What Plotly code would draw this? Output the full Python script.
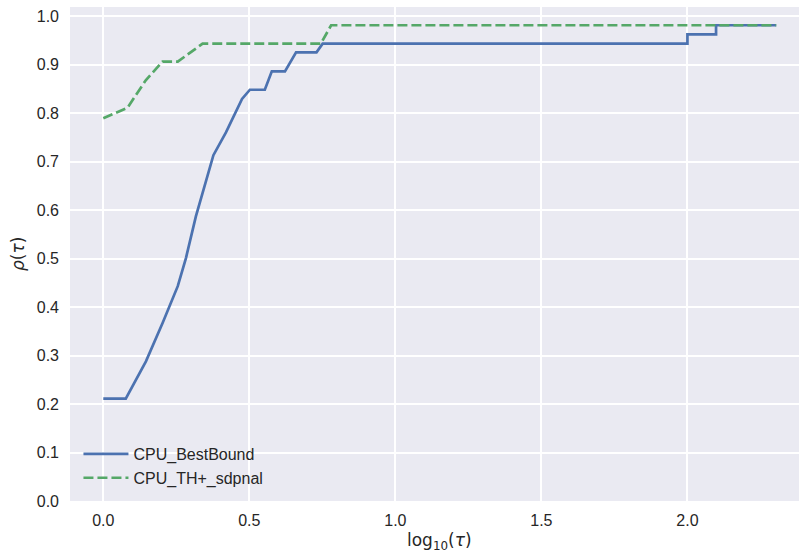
import plotly.graph_objects as go

# Performance profile data (log10(tau), rho(tau))
best_x = [0.0, 0.077, 0.146, 0.203, 0.255, 0.283, 0.317, 0.352, 0.377, 0.420, 0.475, 0.502,
          0.553, 0.577, 0.622, 0.660, 0.730, 0.751, 2.0, 2.0, 2.098, 2.098, 2.304]
best_y = [0.211, 0.211, 0.288, 0.367, 0.443, 0.501, 0.587, 0.663, 0.713, 0.760, 0.829, 0.848,
          0.848, 0.886, 0.886, 0.925, 0.925, 0.943, 0.943, 0.962, 0.962, 0.981, 0.981]

th_x = [0.0, 0.083, 0.146, 0.203, 0.255, 0.340, 0.745, 0.780, 2.304]
th_y = [0.789, 0.811, 0.868, 0.906, 0.906, 0.943, 0.943, 0.981, 0.981]

x_ticks = [0.0, 0.5, 1.0, 1.5, 2.0]
y_ticks = [0.0, 0.1, 0.2, 0.3, 0.4, 0.5, 0.6, 0.7, 0.8, 0.9, 1.0]

font_family = "Liberation Sans, Arial, sans-serif"
math_family = "DejaVu Sans, sans-serif"
text_color = "#262626"

fig = go.Figure()
fig.add_trace(go.Scatter(x=best_x, y=best_y, mode="lines", name="CPU_BestBound",
                         line=dict(color="#4C72B0", width=2.7)))
fig.add_trace(go.Scatter(x=th_x, y=th_y, mode="lines", name="CPU_TH+_sdpnal",
                         line=dict(color="#55A868", width=2.7, dash="10px,4px")))

fig.update_layout(
    width=799, height=552,
    margin=dict(l=70, r=0, t=7, b=51, autoexpand=False),
    paper_bgcolor="white",
    plot_bgcolor="#EAEAF2",
    font=dict(family=font_family, size=16, color=text_color),
    showlegend=True,
    legend=dict(x=0.0116, y=0.012, xanchor="left", yanchor="bottom",
                bgcolor="rgba(0,0,0,0)", font=dict(size=16, color=text_color),
                itemwidth=45, tracegroupgap=0),
    annotations=[
        dict(text="log<sub>10</sub>(<i>τ</i>)", xref="paper", yref="paper",
             x=0.507, y=-0.081, xanchor="center", yanchor="middle",
             showarrow=False, font=dict(size=17, family=math_family, color=text_color)),
        dict(text="<i>ρ</i>(<i>τ</i>)", xref="paper", yref="paper",
             x=-0.0713, y=0.5, xanchor="center", yanchor="middle", textangle=-90,
             showarrow=False, font=dict(size=17, family=math_family, color=text_color)),
    ],
)
fig.update_xaxes(
    range=[-0.114, 2.382], tickvals=x_ticks, ticktext=[f"{v:.1f}" for v in x_ticks],
    showgrid=True, gridcolor="white", gridwidth=1.5, zeroline=False, showline=False,
    ticks="", ticklabelstandoff=8, automargin=False,
)
fig.update_yaxes(
    range=[0, 1.0186], tickvals=y_ticks, ticktext=[f"{v:.1f}" for v in y_ticks],
    showgrid=True, gridcolor="white", gridwidth=1.5, zeroline=False, showline=False,
    ticks="", ticklabelstandoff=10, automargin=False,
)

fig.write_html("out.html", config={"displayModeBar": False},
               post_script="document.body.style.margin='0';document.body.style.overflow='hidden';")
